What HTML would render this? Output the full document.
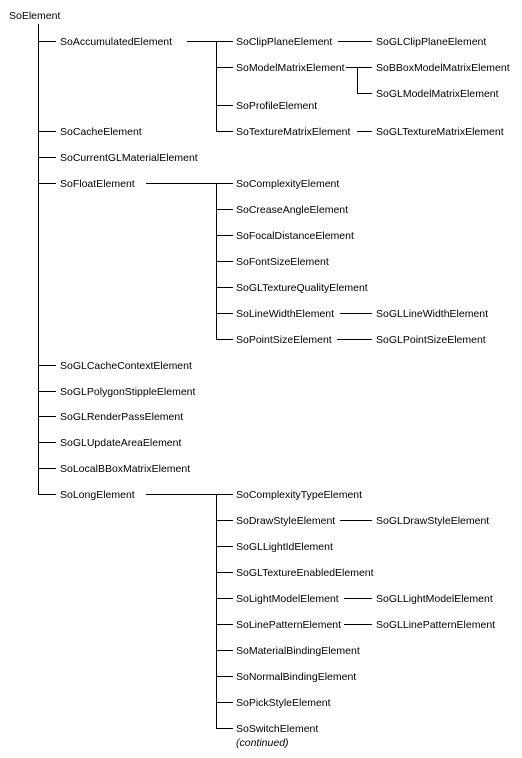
<!DOCTYPE html>
<html><head><style>
html,body{margin:0;padding:0;background:#fff;}
svg{display:block;}
text{font-family:"Liberation Sans",sans-serif;font-size:10.5px;fill:#000;}
</style></head><body>
<svg width="522" height="758" viewBox="0 0 522 758" xmlns="http://www.w3.org/2000/svg">
<g stroke="#000" stroke-width="1" fill="none">
<line x1="38.5" y1="24" x2="38.5" y2="494.5"/>
<line x1="38" y1="41.5" x2="56" y2="41.5"/>
<line x1="38" y1="131.5" x2="56" y2="131.5"/>
<line x1="38" y1="157.5" x2="56" y2="157.5"/>
<line x1="38" y1="183.5" x2="56" y2="183.5"/>
<line x1="38" y1="365.5" x2="56" y2="365.5"/>
<line x1="38" y1="391.5" x2="56" y2="391.5"/>
<line x1="38" y1="416.5" x2="56" y2="416.5"/>
<line x1="38" y1="442.5" x2="56" y2="442.5"/>
<line x1="38" y1="468.5" x2="56" y2="468.5"/>
<line x1="38" y1="494.5" x2="56" y2="494.5"/>
<!-- accumulated -->
<line x1="187" y1="41.5" x2="233" y2="41.5"/>
<line x1="216.5" y1="41" x2="216.5" y2="131.5"/>
<line x1="216" y1="67.5" x2="233" y2="67.5"/>
<line x1="216" y1="105.5" x2="233" y2="105.5"/>
<line x1="216" y1="131.5" x2="233" y2="131.5"/>
<line x1="338" y1="41.5" x2="372" y2="41.5"/>
<line x1="346" y1="67.5" x2="372" y2="67.5"/>
<line x1="357.5" y1="67" x2="357.5" y2="93.5"/>
<line x1="357" y1="93.5" x2="372" y2="93.5"/>
<line x1="357" y1="131.5" x2="372" y2="131.5"/>
<!-- float -->
<line x1="146" y1="183.5" x2="233" y2="183.5"/>
<line x1="216.5" y1="183" x2="216.5" y2="339.5"/>
<line x1="216" y1="209.5" x2="233" y2="209.5"/>
<line x1="216" y1="235.5" x2="233" y2="235.5"/>
<line x1="216" y1="261.5" x2="233" y2="261.5"/>
<line x1="216" y1="287.5" x2="233" y2="287.5"/>
<line x1="216" y1="313.5" x2="233" y2="313.5"/>
<line x1="216" y1="339.5" x2="233" y2="339.5"/>
<line x1="340" y1="313.5" x2="372" y2="313.5"/>
<line x1="337" y1="339.5" x2="372" y2="339.5"/>
<!-- long -->
<line x1="146" y1="494.5" x2="233" y2="494.5"/>
<line x1="216.5" y1="494" x2="216.5" y2="728.5"/>
<line x1="216" y1="520.5" x2="233" y2="520.5"/>
<line x1="216" y1="546.5" x2="233" y2="546.5"/>
<line x1="216" y1="572.5" x2="233" y2="572.5"/>
<line x1="216" y1="598.5" x2="233" y2="598.5"/>
<line x1="216" y1="624.5" x2="233" y2="624.5"/>
<line x1="216" y1="650.5" x2="233" y2="650.5"/>
<line x1="216" y1="676.5" x2="233" y2="676.5"/>
<line x1="216" y1="702.5" x2="233" y2="702.5"/>
<line x1="216" y1="728.5" x2="233" y2="728.5"/>
<line x1="340" y1="520.5" x2="372" y2="520.5"/>
<line x1="344" y1="598.5" x2="372" y2="598.5"/>
<line x1="344" y1="624.5" x2="372" y2="624.5"/>
</g>
<g>
<text x="9" y="19">SoElement</text>
<text x="60" y="45">SoAccumulatedElement</text>
<text x="60" y="135">SoCacheElement</text>
<text x="60" y="161">SoCurrentGLMaterialElement</text>
<text x="60" y="187">SoFloatElement</text>
<text x="60" y="369">SoGLCacheContextElement</text>
<text x="60" y="395">SoGLPolygonStippleElement</text>
<text x="60" y="420">SoGLRenderPassElement</text>
<text x="60" y="446">SoGLUpdateAreaElement</text>
<text x="60" y="472">SoLocalBBoxMatrixElement</text>
<text x="60" y="498">SoLongElement</text>

<text x="236" y="45">SoClipPlaneElement</text>
<text x="236" y="71">SoModelMatrixElement</text>
<text x="236" y="109">SoProfileElement</text>
<text x="236" y="135">SoTextureMatrixElement</text>
<text x="376" y="45">SoGLClipPlaneElement</text>
<text x="376" y="71">SoBBoxModelMatrixElement</text>
<text x="376" y="97">SoGLModelMatrixElement</text>
<text x="376" y="135">SoGLTextureMatrixElement</text>

<text x="236" y="187">SoComplexityElement</text>
<text x="236" y="213">SoCreaseAngleElement</text>
<text x="236" y="239">SoFocalDistanceElement</text>
<text x="236" y="265">SoFontSizeElement</text>
<text x="236" y="291">SoGLTextureQualityElement</text>
<text x="236" y="317">SoLineWidthElement</text>
<text x="236" y="343">SoPointSizeElement</text>
<text x="376" y="317">SoGLLineWidthElement</text>
<text x="376" y="343">SoGLPointSizeElement</text>

<text x="236" y="498">SoComplexityTypeElement</text>
<text x="236" y="524">SoDrawStyleElement</text>
<text x="236" y="550">SoGLLightIdElement</text>
<text x="236" y="576">SoGLTextureEnabledElement</text>
<text x="236" y="602">SoLightModelElement</text>
<text x="236" y="628">SoLinePatternElement</text>
<text x="236" y="654">SoMaterialBindingElement</text>
<text x="236" y="680">SoNormalBindingElement</text>
<text x="236" y="706">SoPickStyleElement</text>
<text x="236" y="732">SoSwitchElement</text>
<text x="236" y="746" font-style="italic">(continued)</text>
<text x="376" y="524">SoGLDrawStyleElement</text>
<text x="376" y="602">SoGLLightModelElement</text>
<text x="376" y="628">SoGLLinePatternElement</text>
</g>
</svg>
</body></html>
